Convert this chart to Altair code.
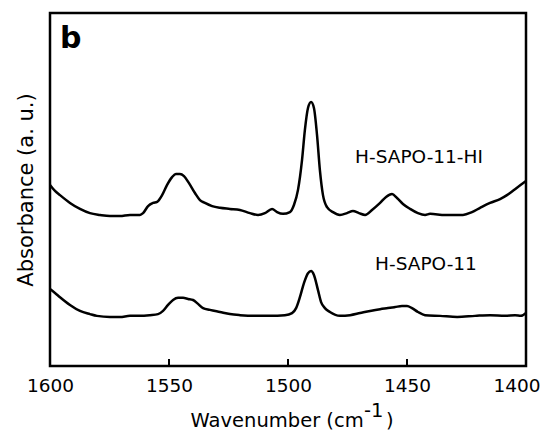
import altair as alt
import pandas as pd

# ---- data ----
series_names = ["H-SAPO-11-HI", "H-SAPO-11"]

wn_hi = [1600, 1597.9, 1595.8, 1591.6, 1587.4, 1583.2, 1579.0, 1574.8, 1570.6, 1566.4,
         1562.2, 1560.9, 1558.8, 1556.7, 1555.0, 1552.9, 1550.8, 1548.7, 1547.1, 1545.4,
         1543.7, 1541.6, 1539.1, 1537.0, 1534.9, 1531.9, 1528.6, 1524.4, 1520.2, 1516.0,
         1512.6, 1509.7, 1506.7, 1504.6, 1502.1, 1499.2, 1497.5, 1495.8, 1494.1, 1492.9,
         1491.6, 1490.3, 1489.1, 1487.8, 1486.6, 1485.3, 1483.6, 1481.1, 1478.2, 1475.2,
         1472.7, 1470.2, 1467.6, 1464.7, 1461.3, 1458.8, 1456.3, 1454.2, 1451.7, 1448.7,
         1445.4, 1442.4, 1440.3, 1434.0, 1426.5, 1422.7, 1419.3, 1415.1, 1410.9, 1408.0,
         1404.6, 1400.0]
abs_hi = [0.513, 0.496, 0.484, 0.462, 0.445, 0.433, 0.428, 0.425, 0.425, 0.428,
          0.428, 0.433, 0.453, 0.462, 0.465, 0.484, 0.513, 0.535, 0.544, 0.544,
          0.538, 0.518, 0.490, 0.470, 0.462, 0.453, 0.448, 0.445, 0.442, 0.433,
          0.428, 0.433, 0.445, 0.436, 0.431, 0.436, 0.456, 0.499, 0.584, 0.669,
          0.731, 0.748, 0.731, 0.654, 0.555, 0.484, 0.450, 0.436, 0.428, 0.433,
          0.439, 0.433, 0.428, 0.442, 0.462, 0.479, 0.487, 0.476, 0.459, 0.445,
          0.433, 0.428, 0.431, 0.428, 0.428, 0.436, 0.448, 0.462, 0.473, 0.484,
          0.501, 0.524]

wn_h = [1600, 1597.9, 1595.8, 1591.6, 1587.4, 1583.2, 1580.3, 1574.8, 1570.6, 1566.4,
        1562.2, 1558.0, 1554.6, 1552.5, 1550.4, 1548.3, 1546.2, 1544.1, 1542.0, 1539.9,
        1537.8, 1535.7, 1532.8, 1528.6, 1524.4, 1520.2, 1513.9, 1507.6, 1501.3, 1498.3,
        1496.6, 1495.0, 1493.3, 1491.6, 1490.3, 1489.1, 1487.4, 1486.1, 1484.5, 1482.4,
        1478.2, 1473.9, 1469.7, 1465.5, 1461.3, 1458.0, 1455.0, 1452.1, 1450.0, 1447.9,
        1445.4, 1442.4, 1436.1, 1428.9, 1421.4, 1415.1, 1408.8, 1404.6, 1402.1, 1400.0]
abs_h = [0.218, 0.207, 0.195, 0.173, 0.156, 0.147, 0.142, 0.139, 0.139, 0.142,
         0.142, 0.144, 0.147, 0.156, 0.173, 0.187, 0.193, 0.193, 0.190, 0.187,
         0.176, 0.164, 0.159, 0.153, 0.147, 0.144, 0.142, 0.142, 0.144, 0.150,
         0.164, 0.195, 0.235, 0.263, 0.269, 0.258, 0.215, 0.181, 0.164, 0.153,
         0.142, 0.144, 0.150, 0.156, 0.161, 0.164, 0.167, 0.170, 0.170, 0.164,
         0.153, 0.144, 0.142, 0.139, 0.142, 0.144, 0.142, 0.144, 0.142, 0.150]

tick_values = [1600, 1550, 1500, 1450, 1400]
inner_ticks = [1550, 1500, 1450]

df = pd.concat([
    pd.DataFrame({"wn": wn_hi, "a": abs_hi, "series": series_names[0]}),
    pd.DataFrame({"wn": wn_h, "a": abs_h, "series": series_names[1]}),
], ignore_index=True)

W, H = 476, 353
FONT = "DejaVu Sans"

x_scale = alt.Scale(domain=[1400, 1600], reverse=True, nice=False, zero=False)
y_scale = alt.Scale(domain=[0, 1], nice=False, zero=False)

lines = alt.Chart(df).mark_line(
    color="black", strokeWidth=2.5, interpolate="monotone"
).encode(
    x=alt.X("wn:Q", scale=x_scale,
            axis=alt.Axis(values=tick_values, format="d", title=None,
                          labelFont=FONT, labelFontSize=18.5, labelColor="black",
                          labelPadding=10, ticks=False, tickSize=0, domain=False,
                          grid=False, labelFlush=False,
                          labelAlign=alt.ExprRef(expr="datum.value == 1400 ? 'right' : 'center'"),
                          labelOffset=alt.ExprRef(expr="datum.value == 1400 ? 14 : 0"))),
    y=alt.Y("a:Q", scale=y_scale,
            axis=alt.Axis(title="Absorbance (a. u.)", labels=False, ticks=False,
                          domain=False, grid=False, titleFont=FONT,
                          titleFontSize=21, titleFontWeight="normal",
                          titleColor="black", titlePadding=14)),
    detail="series:N",
)

tick_rules = alt.Chart(pd.DataFrame({"wn": inner_ticks})).mark_rule(
    color="black", strokeWidth=2
).encode(
    x=alt.X("wn:Q", scale=x_scale),
    y=alt.value(H),
    y2=alt.value(H - 7),
)


def label(text, x, y, size, align="left", weight="normal"):
    return alt.Chart(pd.DataFrame({"t": [text]})).mark_text(
        font=FONT, fontSize=size, fontWeight=weight, color="black",
        align=align, baseline="alphabetic"
    ).encode(text="t:N", x=alt.value(x), y=alt.value(y))


texts = [
    label("b", 10, 35, 30, weight="bold"),
    label(series_names[0], 369, 150, 18.5, align="center"),
    label(series_names[1], 376, 257, 18.5, align="center"),
    label("Wavenumber (cm", 313.7, 414, 19.5, align="right"),
    label("-1", 314, 404, 19.5),
    label(")", 336, 414, 19.5),
]

chart = alt.layer(lines, tick_rules, *texts).properties(
    width=W, height=H,
    padding={"left": 42, "top": 5, "right": 14, "bottom": 65},
    autosize=alt.AutoSizeParams(type="none"),
).configure_view(stroke="black", strokeWidth=2.5)

chart.save("out.html", embed_options={"renderer": "svg", "actions": False})
